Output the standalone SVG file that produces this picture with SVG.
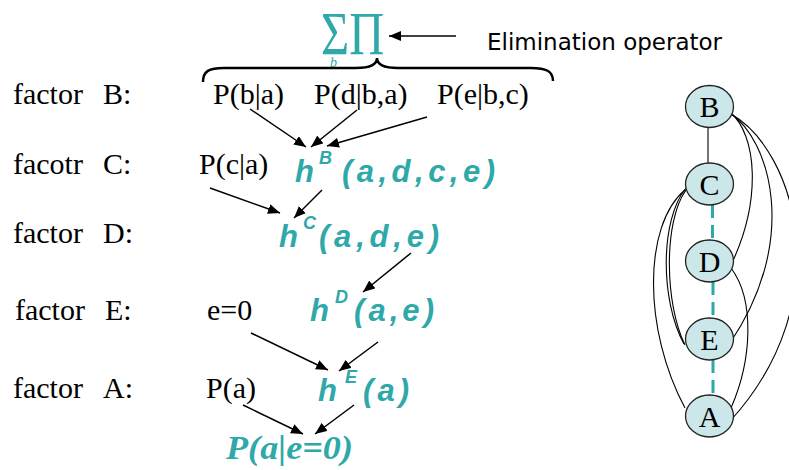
<svg xmlns="http://www.w3.org/2000/svg" width="789" height="470" viewBox="0 0 789 470">
<style>
.lbl{font-family:"Liberation Serif","Times New Roman",serif;font-size:30px;fill:#000}
.el{font-family:"DejaVu Sans",Tahoma,sans-serif;font-size:23px;fill:#000}
.h{font-family:"Liberation Sans",Arial,sans-serif;font-weight:bold;font-style:italic;font-size:31px;fill:#2FA8AA}
.sup{font-family:"Liberation Sans",Arial,sans-serif;font-weight:bold;font-style:italic;font-size:18px;fill:#2FA8AA}
.res{font-family:"Liberation Serif","Times New Roman",serif;font-weight:bold;font-style:italic;font-size:34px;fill:#2FA8AA}
.op{font-family:"Liberation Serif","Times New Roman",serif;font-size:62px;fill:#2FA8AA}
.arr{stroke:#000;stroke-width:1.5;fill:none;marker-end:url(#ah)}
.node ellipse{fill:#CCE7E9;stroke:#222;stroke-width:1.3}
.node text{font-family:"Liberation Serif","Times New Roman",serif;font-size:30px;fill:#000;text-anchor:middle}
.ge{stroke:#000;stroke-width:1.1;fill:none}
.dash{stroke:#2FA8AA;stroke-width:3;stroke-dasharray:13 7;fill:none}
</style>
<defs>
<marker id="ah" viewBox="0 0 12 10" refX="12" refY="5" markerWidth="12" markerHeight="10" markerUnits="userSpaceOnUse" orient="auto">
<path d="M0,0 L12,5 L0,10 z" fill="#000"/>
</marker>
</defs>

<g id="operator">
<text class="op" transform="translate(321,54) scale(0.78,1)" x="0" y="0">ΣΠ</text>
<text x="330" y="67" style="font-family:'Liberation Serif',serif;font-style:italic;font-size:14px;fill:#2FA8AA">b</text>
<path d="M203,82 C203,71 209,68 224,68 L356,68 C371,68 377,64 377,58 C377,64 383,68 398,68 L531,68 C546,68 553,71 553,81" fill="none" stroke="#000" stroke-width="2.5"/>
<text class="el" x="487" y="50">Elimination operator</text>
</g>

<g id="row-labels">
<text class="lbl" x="13" y="104">factor<tspan x="103">B:</tspan></text>
<text class="lbl" x="13" y="174">facotr<tspan x="103">C:</tspan></text>
<text class="lbl" x="13" y="243">factor<tspan x="103">D:</tspan></text>
<text class="lbl" x="15" y="320">factor<tspan x="105">E:</tspan></text>
<text class="lbl" x="13" y="398">factor<tspan x="103">A:</tspan></text>
</g>

<g id="pba"><text class="lbl" x="213" y="104">P(b|a)</text></g>
<g id="pdba"><text class="lbl" x="314" y="104">P(d|b,a)</text></g>
<g id="pebc"><text class="lbl" x="437" y="104">P(e|b,c)</text></g>
<g id="pca"><text class="lbl" x="199" y="174">P(c|a)</text></g>
<g id="hB"><text class="h" x="295" y="182">h</text><text class="sup" x="319" y="164">B</text><text class="h" x="342" y="182" textLength="153" lengthAdjust="spacing">(a,d,c,e)</text></g>
<g id="hC"><text class="h" x="279" y="247">h</text><text class="sup" x="303" y="229">C</text><text class="h" x="319" y="247" textLength="120" lengthAdjust="spacing">(a,d,e)</text></g>
<g id="e0"><text class="lbl" x="207" y="320">e=0</text></g>
<g id="hD"><text class="h" x="310" y="321">h</text><text class="sup" x="335" y="303">D</text><text class="h" x="354" y="321" textLength="80" lengthAdjust="spacing">(a,e)</text></g>
<g id="pa"><text class="lbl" x="206" y="398">P(a)</text></g>
<g id="hE"><text class="h" x="318" y="401">h</text><text class="sup" x="345" y="383">E</text><text class="h" x="363" y="401" textLength="46" lengthAdjust="spacing">(a)</text></g>
<g id="result"><text class="res" x="226" y="459" textLength="127" lengthAdjust="spacingAndGlyphs">P(a|e=0)</text></g>

<g id="connectors">
<line class="arr" x1="456" y1="36" x2="389" y2="36"/>
<line class="arr" x1="250" y1="109" x2="306" y2="147"/>
<line class="arr" x1="357" y1="110" x2="311" y2="147"/>
<line class="arr" x1="427" y1="117" x2="327" y2="146"/>
<line class="arr" x1="210" y1="188" x2="280" y2="213"/>
<line class="arr" x1="322" y1="190" x2="294" y2="218"/>
<line class="arr" x1="411" y1="253" x2="363" y2="292"/>
<line class="arr" x1="251" y1="333" x2="328" y2="370"/>
<line class="arr" x1="378" y1="342" x2="339" y2="371"/>
<line class="arr" x1="243" y1="405" x2="303" y2="434"/>
<line class="arr" x1="354" y1="405" x2="315" y2="434"/>

<line class="ge" x1="708" y1="127" x2="708" y2="163"/>
<line class="dash" x1="712.5" y1="205" x2="712.5" y2="240"/>
<line class="dash" x1="713" y1="282" x2="713" y2="318"/>
<line class="dash" x1="713" y1="360" x2="713" y2="395"/>
<path class="ge" d="M730,112 C757,135 762,200 731,265"/>
<path class="ge" d="M730,113 C770,140 800,240 730,343"/>
<path class="ge" d="M731,114 C795,150 840,300 731,420"/>
<path class="ge" d="M731,268 C755,300 752,360 731,408"/>
<path class="ge" d="M685,190 C643,225 643,330 685,408"/>
<path class="ge" d="M686,188 C660,220 660,300 684,344"/>
<path class="ge" d="M686,190 C663,222 665,305 685,345"/>
</g>

<g id="node-B" class="node"><ellipse cx="709.5" cy="106.5" rx="24" ry="21"/><text x="709.5" y="117">B</text></g>
<g id="node-C" class="node"><ellipse cx="709.5" cy="184" rx="24" ry="21"/><text x="709.5" y="195">C</text></g>
<g id="node-D" class="node"><ellipse cx="709.5" cy="261" rx="24" ry="21"/><text x="709.5" y="272">D</text></g>
<g id="node-E" class="node"><ellipse cx="709.5" cy="339" rx="24" ry="21"/><text x="709.5" y="350">E</text></g>
<g id="node-A" class="node"><ellipse cx="709.5" cy="416" rx="24" ry="21"/><text x="709.5" y="427">A</text></g>
</svg>
